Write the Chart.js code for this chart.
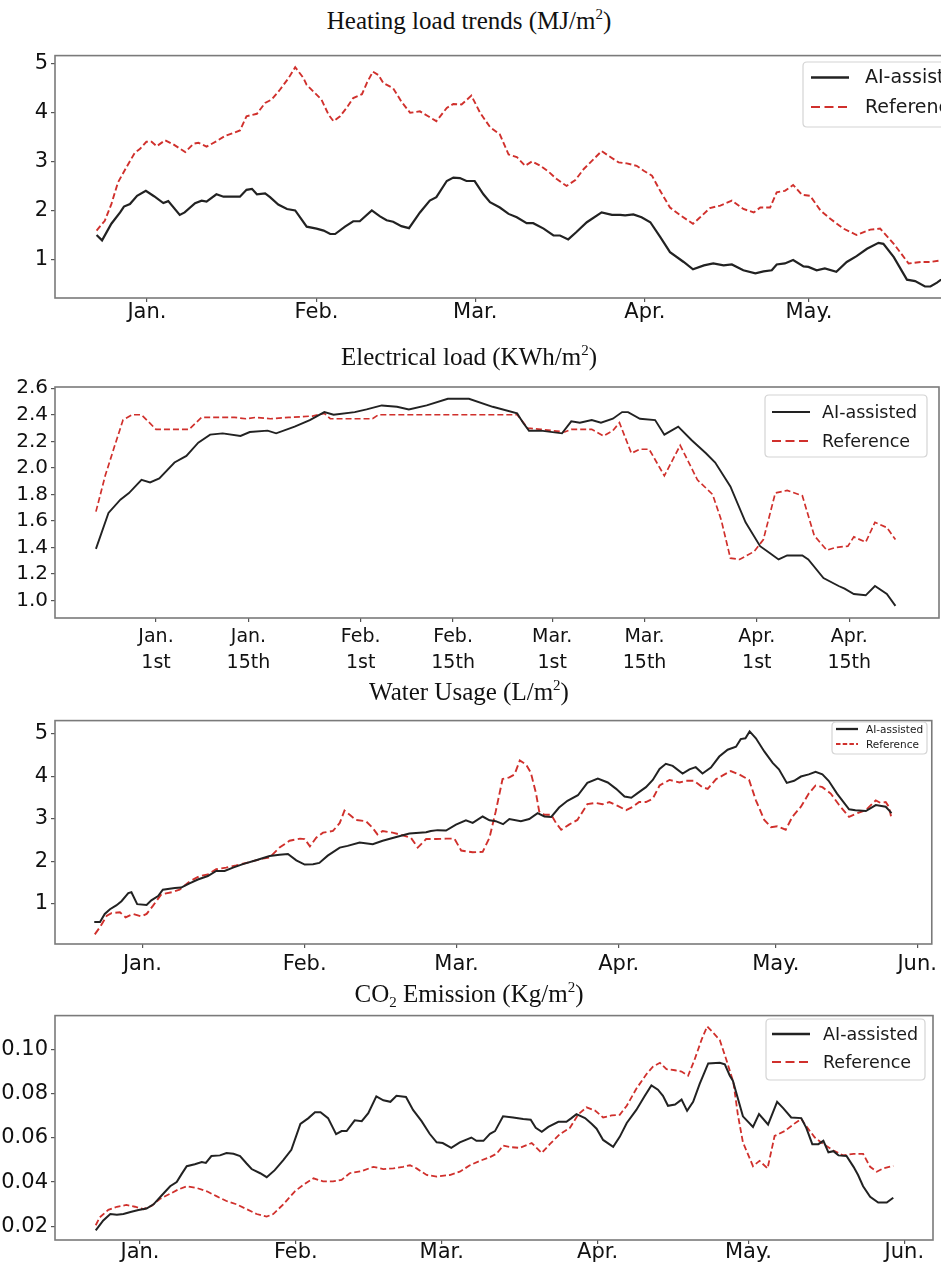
<!DOCTYPE html>
<html><head><meta charset="utf-8">
<script src="https://cdn.jsdelivr.net/npm/chart.js@4.4.0/dist/chart.umd.min.js"></script>
<style>
html,body{margin:0;padding:0;background:#fff;width:941px;height:1266px;overflow:hidden;position:relative;}
.t{position:absolute;left:0;width:938px;text-align:center;font-family:'Liberation Serif','Times New Roman',serif;font-size:25px;line-height:25px;color:#111;white-space:nowrap;z-index:5;}
.t sup{font-size:15px;vertical-align:0;position:relative;top:-10px;}
.t sub{font-size:15px;vertical-align:0;position:relative;top:5px;}
canvas{position:absolute;left:0;}
</style></head>
<body>
<div class="t" style="top:8px">Heating load trends (MJ/m<sup>2</sup>)</div>
<div class="t" style="top:344px">Electrical load (KWh/m<sup>2</sup>)</div>
<div class="t" style="top:679px">Water Usage (L/m<sup>2</sup>)</div>
<div class="t" style="top:981px">CO<sub>2</sub> Emission (Kg/m<sup>2</sup>)</div>
<canvas id="c1" width="1000" height="300" style="top:40px"></canvas>
<canvas id="c2" width="941" height="310" style="top:370px"></canvas>
<canvas id="c3" width="941" height="275" style="top:705px"></canvas>
<canvas id="c4" width="941" height="266" style="top:1000px"></canvas>
<script>
// ---------- DATA (x = day offset from Jan 1st, y = value) ----------
const seriesLabels = ['AI-assisted', 'Reference'];

const monthTicks = [0, 31, 60, 91, 121];
const monthLabels = ['Jan.', 'Feb.', 'Mar.', 'Apr.', 'May.'];
const halfMonthTicks = [0, 14, 31, 45, 60, 74, 91, 105];
const halfMonthLabels = [['Jan.','1st'],['Jan.','15th'],['Feb.','1st'],['Feb.','15th'],['Mar.','1st'],['Mar.','15th'],['Apr.','1st'],['Apr.','15th']];
const waterTicks = [0, 31, 60, 91, 121, 148];
const co2Ticks = [0, 31, 60, 91, 121, 152];
const sixMonthLabels = ['Jan.', 'Feb.', 'Mar.', 'Apr.', 'May.', 'Jun.'];

const heatYTicks = [1, 2, 3, 4, 5];
const elecYTicks = [1.0, 1.2, 1.4, 1.6, 1.8, 2.0, 2.2, 2.4, 2.6];
const waterYTicks = [1, 2, 3, 4, 5];
const co2YTicks = [0.02, 0.04, 0.06, 0.08, 0.10];

const heatAI = [
[-9.2,1.50],[-8.2,1.39],[-6.5,1.73],[-4.9,1.96],[-4.2,2.08],[-3.1,2.13],[-1.8,2.30],[-0.2,2.40],[1.3,2.29],[3.0,2.15],
[3.9,2.19],[6.0,1.91],[6.9,1.96],[8.8,2.15],[10.0,2.20],[10.9,2.18],[12.7,2.33],[14.0,2.28],[17.0,2.28],[18.2,2.42],
[19.2,2.44],[20.1,2.33],[21.6,2.35],[22.5,2.27],[24.0,2.12],[25.6,2.03],[27.1,2.00],[28.0,1.86],[29.2,1.67],[31.0,1.63],
[32.3,1.59],[33.5,1.52],[34.4,1.52],[36.2,1.67],[37.7,1.78],[38.9,1.78],[41.1,2.00],[42.6,1.88],[43.8,1.80],[45.0,1.77],
[46.5,1.68],[47.9,1.64],[49.9,1.96],[51.7,2.20],[52.9,2.27],[54.8,2.60],[56.0,2.67],[57.2,2.66],[58.4,2.60],[59.9,2.60],
[61.5,2.33],[62.7,2.17],[64.5,2.06],[66.1,1.93],[67.6,1.86],[69.4,1.74],[70.6,1.74],[72.5,1.63],[74.3,1.49],[75.5,1.49],
[77.0,1.41],[78.5,1.56],[80.4,1.76],[83.1,1.96],[85.0,1.91],[86.5,1.91],[87.4,1.90],[88.9,1.92],[90.4,1.86],[92.0,1.76],
[93.8,1.46],[95.6,1.15],[98.1,0.95],[99.8,0.80],[101.8,0.88],[103.5,0.92],[105.4,0.88],[106.9,0.90],[109.0,0.78],[111.2,0.72],
[112.7,0.76],[114.2,0.78],[115.1,0.90],[116.6,0.92],[118.1,0.99],[120.0,0.86],[120.9,0.85],[122.4,0.78],[123.9,0.82],[126.0,0.75],
[127.9,0.95],[129.7,1.07],[131.6,1.22],[133.7,1.34],[134.6,1.32],[136.5,1.05],[138.9,0.59],[140.4,0.56],[142.2,0.45],[143.2,0.45],
[144.4,0.53],[145.0,0.58],[147.0,0.66]
];
const heatRef = [
[-9.2,1.59],[-7.7,1.79],[-6.5,2.13],[-5.3,2.57],[-3.8,2.87],[-2.2,3.18],[-1.3,3.25],[-0.1,3.40],[0.85,3.40],[1.8,3.31],
[3.3,3.43],[4.8,3.35],[7.0,3.19],[8.5,3.36],[9.4,3.38],[10.9,3.30],[12.7,3.41],[14.3,3.52],[15.8,3.58],[17.0,3.63],
[18.2,3.92],[20.1,3.97],[21.6,4.19],[22.8,4.26],[24.3,4.46],[25.9,4.70],[27.1,4.92],[28.6,4.70],[29.2,4.56],[31.0,4.36],
[31.9,4.26],[33.2,3.95],[34.1,3.82],[35.3,3.92],[36.5,4.09],[37.7,4.29],[39.3,4.37],[40.2,4.60],[41.3,4.83],[42.3,4.76],
[43.2,4.60],[45.0,4.49],[46.5,4.22],[48.1,3.99],[49.9,4.02],[51.4,3.92],[52.9,3.82],[54.8,4.09],[56.0,4.17],[57.5,4.16],
[59.3,4.34],[60.9,3.99],[62.7,3.70],[64.5,3.55],[66.1,3.14],[67.6,3.09],[69.1,2.91],[70.4,3.00],[71.9,2.91],[73.4,2.79],
[74.9,2.64],[76.7,2.50],[78.3,2.62],[79.8,2.84],[81.6,3.04],[83.1,3.21],[84.7,3.09],[86.2,2.98],[87.7,2.96],[89.5,2.91],
[90.8,2.81],[92.3,2.71],[93.8,2.40],[95.6,2.06],[97.5,1.90],[99.8,1.73],[101.1,1.86],[102.9,2.05],[104.8,2.10],[106.9,2.20],
[109.0,2.03],[110.9,1.96],[112.1,2.06],[113.9,2.06],[115.1,2.37],[116.6,2.40],[118.1,2.52],[119.7,2.32],[121.2,2.30],[123.1,2.00],
[124.9,1.83],[127.3,1.63],[129.7,1.50],[132.2,1.61],[134.0,1.63],[136.5,1.32],[139.2,0.92],[141.4,0.95],[143.2,0.95],[145.0,0.98],
[147.0,1.00]
];

const elecAI = [
[-9.1,1.39],[-7.2,1.66],[-5.4,1.76],[-4.1,1.81],[-2.2,1.91],[-0.9,1.89],[0.5,1.92],[2.8,2.04],[4.6,2.09],[6.4,2.19],
[8.2,2.25],[10.1,2.26],[12.8,2.24],[14.2,2.27],[16.9,2.28],[18.2,2.26],[21.0,2.31],[23.3,2.36],[25.5,2.42],[26.9,2.40],
[30.1,2.42],[31.9,2.44],[34.2,2.47],[36.5,2.46],[38.3,2.44],[41.0,2.47],[44.2,2.52],[47.4,2.52],[51.0,2.46],[54.7,2.41],
[55.6,2.34],[56.5,2.28],[58.3,2.28],[61.5,2.26],[62.9,2.35],[64.2,2.34],[66.0,2.36],[67.4,2.34],[69.2,2.37],[70.6,2.42],
[71.5,2.42],[73.3,2.37],[75.6,2.36],[77.0,2.25],[79.1,2.31],[81.1,2.21],[83.3,2.11],[84.7,2.04],[87.0,1.86],[89.3,1.59],
[91.5,1.41],[92.9,1.36],[94.3,1.31],[95.6,1.34],[97.9,1.34],[98.8,1.31],[101.1,1.17],[103.4,1.11],[104.3,1.09],[105.7,1.05],
[107.5,1.04],[108.9,1.11],[110.7,1.05],[112.0,0.96]
];
const elecRef = [
[-9.1,1.67],[-7.7,1.94],[-6.3,2.16],[-5.0,2.36],[-3.6,2.40],[-2.2,2.40],[0.0,2.29],[5.0,2.29],[6.9,2.38],[11.9,2.38],
[13.6,2.37],[15.1,2.38],[17.3,2.37],[20.1,2.38],[23.7,2.39],[25.5,2.41],[26.4,2.37],[32.8,2.37],[33.7,2.40],[54.7,2.40],
[56.3,2.30],[58.3,2.29],[61.9,2.27],[62.9,2.29],[66.0,2.29],[67.8,2.24],[69.2,2.28],[70.2,2.34],[72.0,2.11],[73.3,2.14],
[74.7,2.14],[77.0,1.94],[79.4,2.17],[82.0,1.91],[84.3,1.80],[85.6,1.61],[87.0,1.32],[88.4,1.31],[90.6,1.37],[92.0,1.46],
[93.8,1.81],[95.6,1.83],[97.9,1.79],[99.7,1.49],[101.6,1.38],[102.9,1.40],[104.8,1.41],[105.7,1.48],[107.5,1.44],[108.9,1.59],
[110.7,1.55],[112.0,1.46]
];

const waterAI = [
[-9.2,0.57],[-8.1,0.57],[-7.2,0.76],[-6.2,0.87],[-5.0,0.96],[-4.0,1.06],[-2.7,1.25],[-2.1,1.27],[-1.0,0.99],[0.8,0.97],
[1.7,1.08],[3.0,1.18],[3.9,1.33],[6.2,1.37],[7.4,1.38],[9.0,1.48],[10.6,1.57],[12.5,1.65],[14.1,1.77],[15.7,1.77],
[17.3,1.85],[19.2,1.93],[21.7,2.02],[24.3,2.12],[26.2,2.15],[27.8,2.17],[29.4,2.02],[31.0,1.92],[32.6,1.93],[33.8,1.96],
[35.4,2.13],[37.7,2.32],[39.2,2.36],[41.5,2.44],[44.0,2.40],[45.9,2.48],[48.5,2.57],[51.0,2.65],[54.2,2.68],[55.1,2.71],
[56.4,2.73],[58.0,2.72],[59.9,2.86],[61.8,2.96],[63.1,2.90],[65.0,3.05],[66.3,2.96],[67.5,2.94],[68.9,2.87],[70.1,2.99],
[72.3,2.94],[73.9,2.99],[75.5,3.13],[76.8,3.05],[78.1,3.04],[79.6,3.26],[81.2,3.42],[83.2,3.55],[85.0,3.84],[87.0,3.94],
[88.9,3.85],[90.5,3.70],[92.1,3.52],[93.4,3.49],[94.6,3.60],[96.2,3.74],[97.5,3.91],[98.8,4.17],[100.0,4.29],[101.3,4.24],
[103.2,4.06],[104.5,4.16],[105.7,4.21],[107.0,4.06],[108.6,4.20],[110.2,4.46],[111.8,4.62],[113.4,4.69],[114.3,4.87],[115.2,4.89],
[116.0,5.05],[117.2,4.89],[118.8,4.58],[120.4,4.31],[121.6,4.16],[123.1,3.84],[124.5,3.89],[125.8,3.99],[127.3,4.04],[128.6,4.10],
[129.9,4.04],[131.1,3.89],[132.7,3.59],[135.0,3.22],[136.2,3.20],[138.2,3.18],[140.1,3.32],[142.0,3.28],[142.6,3.20],[143.1,3.13]
];
const waterRef = [
[-9.1,0.28],[-8.1,0.45],[-6.8,0.72],[-5.9,0.78],[-4.3,0.80],[-3.2,0.68],[-1.8,0.76],[-0.2,0.70],[0.8,0.76],[2.0,0.95],
[3.6,1.22],[5.6,1.27],[7.1,1.33],[9.0,1.52],[10.9,1.65],[12.5,1.69],[14.1,1.81],[16.0,1.85],[17.9,1.90],[20.5,1.98],
[23.0,2.06],[24.3,2.09],[26.2,2.32],[28.1,2.48],[30.1,2.53],[31.0,2.52],[32.0,2.35],[33.2,2.55],[34.5,2.67],[36.4,2.71],
[37.7,2.90],[38.6,3.19],[39.6,3.09],[40.8,2.97],[42.7,2.94],[44.0,2.78],[44.9,2.63],[45.9,2.71],[47.8,2.67],[49.7,2.61],
[51.3,2.55],[52.6,2.32],[54.2,2.52],[56.1,2.52],[58.0,2.53],[59.6,2.53],[60.9,2.25],[63.1,2.21],[65.0,2.22],[66.3,2.55],
[67.5,3.17],[68.8,3.93],[70.1,3.97],[71.1,4.04],[72.1,4.37],[73.3,4.27],[74.2,4.08],[75.2,3.59],[75.8,3.17],[76.8,3.09],
[78.1,3.09],[79.0,2.90],[80.0,2.74],[81.5,2.86],[83.1,2.97],[85.0,3.34],[86.6,3.37],[87.9,3.34],[89.2,3.39],[90.8,3.30],
[92.4,3.20],[93.7,3.28],[94.9,3.39],[96.2,3.39],[97.5,3.47],[98.8,3.78],[100.7,3.91],[102.6,3.85],[103.8,3.89],[105.4,3.89],
[107.0,3.74],[108.0,3.70],[109.6,3.93],[110.8,4.01],[112.4,4.12],[114.0,4.04],[115.9,3.91],[117.2,3.43],[118.8,2.97],[120.1,2.80],
[121.3,2.82],[122.9,2.74],[124.2,3.05],[125.8,3.28],[127.3,3.59],[128.6,3.78],[129.9,3.74],[131.5,3.59],[133.1,3.32],[135.0,3.04],
[136.6,3.13],[138.2,3.20],[140.1,3.43],[141.0,3.37],[142.0,3.39],[142.6,3.28],[143.1,3.01]
];

const co2AI = [
[-8.8,0.0181],[-7.3,0.0226],[-5.9,0.0255],[-4.6,0.0252],[-3.3,0.0255],[-1.7,0.0265],[-0.3,0.0273],[1.3,0.0280],[2.7,0.0299],[4.3,0.0339],
[6.0,0.0381],[7.3,0.0400],[8.3,0.0437],[9.3,0.0472],[10.9,0.0481],[12.3,0.0491],[13.1,0.0487],[14.2,0.0518],[15.9,0.0521],[17.2,0.0532],
[18.6,0.0528],[19.9,0.0518],[21.2,0.0484],[22.2,0.0459],[23.9,0.0440],[25.2,0.0422],[26.8,0.0454],[28.5,0.0499],[30.1,0.0546],[31.9,0.0664],
[33.5,0.0690],[34.8,0.0717],[35.9,0.0717],[37.4,0.0690],[39.0,0.0617],[40.1,0.0631],[41.1,0.0631],[42.7,0.0680],[44.1,0.0676],[45.4,0.0712],
[47.0,0.0789],[48.4,0.0771],[49.8,0.0764],[51.0,0.0791],[52.9,0.0786],[54.3,0.0727],[56.0,0.0676],[57.6,0.0619],[59.0,0.0580],[60.2,0.0577],
[61.9,0.0555],[63.6,0.0580],[65.9,0.0602],[66.9,0.0587],[68.3,0.0587],[69.6,0.0619],[70.6,0.0631],[72.2,0.0698],[74.2,0.0693],[76.2,0.0686],
[77.7,0.0683],[78.7,0.0646],[79.9,0.0628],[81.2,0.0650],[83.2,0.0673],[84.8,0.0673],[85.8,0.0690],[86.8,0.0708],[88.5,0.0690],[89.8,0.0664],
[90.8,0.0642],[92.1,0.0591],[94.1,0.0560],[95.4,0.0605],[96.8,0.0668],[98.7,0.0727],[100.4,0.0791],[101.7,0.0838],[103.0,0.0819],[104.0,0.0791],
[105.0,0.0746],[106.4,0.0752],[107.7,0.0774],[108.8,0.0723],[110.0,0.0764],[111.3,0.0845],[113.0,0.0938],[115.3,0.0941],[116.3,0.0934],[117.3,0.0882],
[117.9,0.0860],[118.9,0.0779],[119.9,0.0698],[121.9,0.0650],[123.1,0.0708],[124.9,0.0661],[126.7,0.0764],[127.9,0.0735],[129.5,0.0693],[131.5,0.0690],
[132.5,0.0646],[133.7,0.0572],[134.9,0.0572],[135.9,0.0587],[136.9,0.0535],[137.9,0.0540],[138.9,0.0521],[140.5,0.0518],[141.9,0.0469],[142.8,0.0432],
[143.8,0.0381],[145.2,0.0333],[146.8,0.0307],[148.5,0.0307],[149.8,0.0329]
];
const co2Ref = [
[-8.8,0.0204],[-8.0,0.0240],[-6.3,0.0274],[-4.6,0.0288],[-2.7,0.0296],[-1.0,0.0288],[0.7,0.0277],[2.3,0.0292],[4.0,0.0324],[6.0,0.0347],
[7.6,0.0366],[9.3,0.0381],[11.3,0.0373],[13.3,0.0358],[15.2,0.0336],[17.2,0.0314],[19.2,0.0299],[21.2,0.0277],[23.2,0.0255],[25.2,0.0243],
[26.5,0.0255],[28.5,0.0299],[30.8,0.0358],[32.5,0.0388],[34.5,0.0417],[36.4,0.0403],[38.4,0.0403],[40.1,0.0410],[41.7,0.0440],[44.1,0.0450],
[46.4,0.0469],[48.4,0.0459],[50.4,0.0462],[52.3,0.0469],[53.7,0.0476],[55.0,0.0462],[57.0,0.0432],[59.0,0.0425],[61.6,0.0432],[63.6,0.0447],
[65.6,0.0476],[67.6,0.0496],[69.6,0.0513],[70.9,0.0528],[72.2,0.0565],[73.9,0.0558],[75.5,0.0555],[77.9,0.0577],[79.9,0.0532],[81.5,0.0572],
[83.5,0.0617],[85.5,0.0646],[87.2,0.0708],[88.8,0.0739],[90.5,0.0724],[92.1,0.0693],[93.8,0.0702],[95.4,0.0705],[96.8,0.0746],[98.7,0.0823],
[100.7,0.0889],[102.0,0.0923],[103.4,0.0941],[104.7,0.0912],[106.4,0.0907],[107.7,0.0901],[109.0,0.0882],[110.3,0.0956],[111.7,0.1047],[112.8,0.1106],
[114.0,0.1077],[115.3,0.1044],[116.7,0.0948],[118.0,0.0853],[118.9,0.0705],[119.9,0.0580],[121.9,0.0472],[123.2,0.0496],[124.8,0.0462],[126.2,0.0609],
[128.2,0.0631],[129.9,0.0661],[131.5,0.0687],[132.5,0.0653],[134.2,0.0602],[135.9,0.0572],[137.9,0.0543],[139.8,0.0521],[141.9,0.0528],[143.8,0.0528],
[145.2,0.0469],[146.5,0.0447],[147.8,0.0462],[149.8,0.0473]
];

// ---------- STYLE ----------
const BLACK = '#222222';
const RED = '#d0302c';
const FRAME = '#7a7a7a';
const FONT = "'DejaVu Sans', 'Liberation Sans', sans-serif";

const framePlugin = {
  id: 'mplFrame',
  afterDatasetsDraw(chart) {
    const {ctx, chartArea: a} = chart;
    ctx.save();
    ctx.strokeStyle = FRAME;
    ctx.lineWidth = 1.6;
    ctx.strokeRect(a.left, a.top, a.right - a.left, a.bottom - a.top);
    ctx.restore();
  }
};

const legendPlugin = {
  id: 'mplLegend',
  afterDraw(chart, args, o) {
    const ctx = chart.ctx;
    ctx.save();
    const r = 4;
    ctx.beginPath();
    ctx.moveTo(o.x + r, o.y);
    ctx.lineTo(o.x + o.w - r, o.y);
    ctx.quadraticCurveTo(o.x + o.w, o.y, o.x + o.w, o.y + r);
    ctx.lineTo(o.x + o.w, o.y + o.h - r);
    ctx.quadraticCurveTo(o.x + o.w, o.y + o.h, o.x + o.w - r, o.y + o.h);
    ctx.lineTo(o.x + r, o.y + o.h);
    ctx.quadraticCurveTo(o.x, o.y + o.h, o.x, o.y + o.h - r);
    ctx.lineTo(o.x, o.y + r);
    ctx.quadraticCurveTo(o.x, o.y, o.x + r, o.y);
    ctx.closePath();
    ctx.fillStyle = 'rgba(255,255,255,0.85)';
    ctx.fill();
    ctx.strokeStyle = '#d4d4d4';
    ctx.lineWidth = 1.2;
    ctx.stroke();
    chart.data.datasets.forEach((ds, i) => {
      const y = o.rows[i];
      ctx.strokeStyle = ds.borderColor;
      ctx.lineWidth = ds.borderWidth + 0.3;
      ctx.setLineDash(i ? o.dash : []);
      ctx.beginPath();
      ctx.moveTo(o.hx0, y);
      ctx.lineTo(o.hx1, y);
      ctx.stroke();
      ctx.setLineDash([]);
      ctx.fillStyle = '#1a1a1a';
      ctx.font = o.fs + 'px ' + FONT;
      ctx.textBaseline = 'middle';
      ctx.textAlign = 'left';
      ctx.fillText(ds.label, o.tx, y + 1);
    });
    ctx.restore();
  }
};

function toXY(arr) { return arr.map(p => ({x: p[0], y: p[1]})); }

function makeChart(id, c) {
  return new Chart(document.getElementById(id), {
    type: 'line',
    data: {
      datasets: [
        {label: seriesLabels[0], data: toXY(c.ai), borderColor: BLACK, borderWidth: c.bw, pointRadius: 0, tension: 0, fill: false},
        {label: seriesLabels[1], data: toXY(c.ref), borderColor: RED, borderWidth: c.rw, borderDash: c.dash, pointRadius: 0, tension: 0, fill: false}
      ]
    },
    options: {
      responsive: false,
      animation: false,
      devicePixelRatio: 1,
      layout: {padding: {top: c.padTop, right: c.padRight, left: 0, bottom: 0}},
      plugins: {
        legend: {display: false},
        tooltip: {enabled: false},
        mplLegend: c.legend
      },
      scales: {
        x: {
          type: 'linear', min: c.xmin, max: c.xmax,
          afterBuildTicks: s => { s.ticks = c.xt.map(v => ({value: v})); },
          afterFit: s => { s.height = c.xh; },
          ticks: {callback: (v, i) => c.xl[i], autoSkip: false, maxRotation: 0, minRotation: 0,
                  font: {family: FONT, size: c.xfs, lineHeight: c.xlh || 1.2}, color: '#111', padding: c.xpad},
          grid: {drawOnChartArea: false, drawTicks: true, tickLength: 4, color: '#555', lineWidth: 1.2},
          border: {display: false}
        },
        y: {
          type: 'linear', min: c.ymin, max: c.ymax,
          afterBuildTicks: s => { s.ticks = c.yt.map(v => ({value: v})); },
          afterFit: s => { s.width = 55; },
          ticks: {callback: (v, i) => c.yl[i], font: {family: FONT, size: c.yfs}, color: '#111', padding: 3},
          grid: {drawOnChartArea: false, drawTicks: true, tickLength: 4, color: '#555', lineWidth: 1.2},
          border: {display: false}
        }
      }
    },
    plugins: [framePlugin, legendPlugin]
  });
}

makeChart('c1', {
  ai: heatAI, ref: heatRef, bw: 2.2, rw: 1.9, dash: [6, 3],
  padTop: 14, padRight: 40, xh: 42,
  xmin: -16.8, xmax: 148.6, xt: monthTicks, xl: monthLabels, xfs: 21, xpad: -2,
  ymin: 0.216, ymax: 5.156, yt: heatYTicks, yl: heatYTicks.map(String), yfs: 21,
  legend: {x: 803, y: 22, w: 190, h: 65, hx0: 811, hx1: 849, tx: 865, rows: [37.5, 67], fs: 19, dash: [9, 4.5]}
});

makeChart('c2', {
  ai: elecAI, ref: elecRef, bw: 1.9, rw: 1.7, dash: [6, 3],
  padTop: 17, padRight: 2, xh: 62,
  xmin: -15.3, xmax: 118.6, xt: halfMonthTicks, xl: halfMonthLabels, xfs: 19, xlh: 1.37, xpad: 2,
  ymin: 0.869, ymax: 2.609, yt: elecYTicks, yl: elecYTicks.map(v => v.toFixed(1)), yfs: 20,
  legend: {x: 765, y: 25, w: 162, h: 62, hx0: 772, hx1: 810, tx: 822, rows: [42, 71], fs: 17.5, dash: [9, 4.5]}
});

makeChart('c3', {
  ai: waterAI, ref: waterRef, bw: 2.0, rw: 1.9, dash: [7, 3.5],
  padTop: 10, padRight: 8, xh: 36,
  xmin: -16.7, xmax: 150.8, xt: waterTicks, xl: sixMonthLabels, xfs: 21, xpad: 4,
  ymin: 0.053, ymax: 5.305, yt: waterYTicks, yl: waterYTicks.map(String), yfs: 21,
  legend: {x: 832, y: 17, w: 95, h: 32, hx0: 836, hx1: 858, tx: 866, rows: [24, 39], fs: 10.5, dash: [4.5, 2.2]}
});

makeChart('c4', {
  ai: co2AI, ref: co2Ref, bw: 2.0, rw: 1.8, dash: [6, 3],
  padTop: 10, padRight: 8, xh: 26,
  xmin: -16.9, xmax: 157.7, xt: co2Ticks, xl: sixMonthLabels, xfs: 21, xpad: -4,
  ymin: 0.01372, ymax: 0.11549, yt: co2YTicks, yl: co2YTicks.map(v => v.toFixed(2)), yfs: 21,
  legend: {x: 766, y: 19, w: 159, h: 61, hx0: 772, hx1: 810, tx: 823, rows: [34, 62], fs: 17.5, dash: [9, 4.5]}
});
</script>
</body></html>
